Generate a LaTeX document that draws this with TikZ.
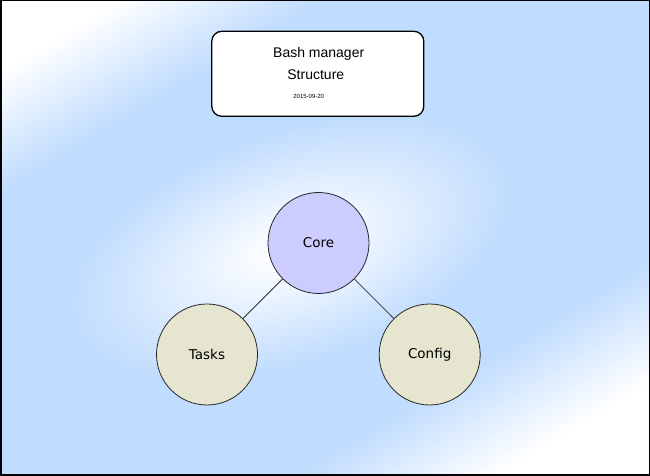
\documentclass[tikz,border=0pt]{standalone}
\usepackage{fontspec}
\setmainfont{DejaVu Sans}
\newfontfamily\titlefont{Liberation Sans}
\definecolor{bgblue}{RGB}{192,220,254}
\definecolor{corefill}{RGB}{204,204,255}
\definecolor{leaffill}{RGB}{229,229,208}
\pgfdeclareverticalshading{bglin}{1400bp}{color(0bp)=(white); color(10bp)=(white); color(115bp)=(bgblue); color(505bp)=(bgblue); color(610bp)=(white); color(620bp)=(white)}
\pgfdeclareradialshading{bgspot}{\pgfpoint{0bp}{0bp}}{color(0bp)=(white); color(8bp)=(white); color(115bp)=(bgblue); color(125bp)=(bgblue)}
\tikzset{
  bubble/.style={circle, draw=black!85, line width=0.8pt, minimum size=101pt, inner sep=0pt, font=\fontsize{13.5}{15}\selectfont},
  titlebox/.style={draw=black, line width=1.3pt, fill=white, rounded corners=10pt, minimum width=212pt, minimum height=85pt, inner sep=0pt},
  link/.style={draw=black!80, line width=0.8pt},
  titletext/.style={font=\titlefont\fontsize{14}{16}\selectfont, inner sep=0pt},
  datetext/.style={font=\titlefont\fontsize{6}{7}\selectfont, inner sep=0pt}
}
\begin{document}
\begin{tikzpicture}[x=1pt,y=1pt]
\useasboundingbox (0,0) rectangle (650,476);
\begin{scope}
  \clip (0,0) rectangle (650,476);
  \fill[white] (0,0) rectangle (650,476);
  \begin{scope}[shift={(295,231)}, rotate=31]
    \pgflowlevelsynccm
    \pgftext{\pgfuseshading{bglin}}
  \end{scope}
  \begin{scope}[shift={(290,228)}, rotate=19, xscale=2.0]
    \clip (0,0) circle (114.5);
    \pgflowlevelsynccm
    \pgftext{\pgfuseshading{bgspot}}
  \end{scope}
\end{scope}
\draw[line width=1.5pt] (0.75,0.75) rectangle (649.25,475.25);

\node[titlebox] (title) at (317.8,402.2) {};
\node[titletext] (t1) at (318.7,422) {Bash manager};
\node[titletext] (t2) at (315.8,401) {Structure};
\node[datetext] (date) at (308.7,379.5) {2015-09-20};

\node[bubble, fill=corefill] (core) at (318.5,233) {Core};
\node[bubble, fill=leaffill] (tasks) at (207,121.5) {Tasks};
\node[bubble, fill=leaffill] (config) at (429.7,121.5) {Config};

\draw[link] (core) -- (tasks);
\draw[link] (core) -- (config);
\end{tikzpicture}
\end{document}
